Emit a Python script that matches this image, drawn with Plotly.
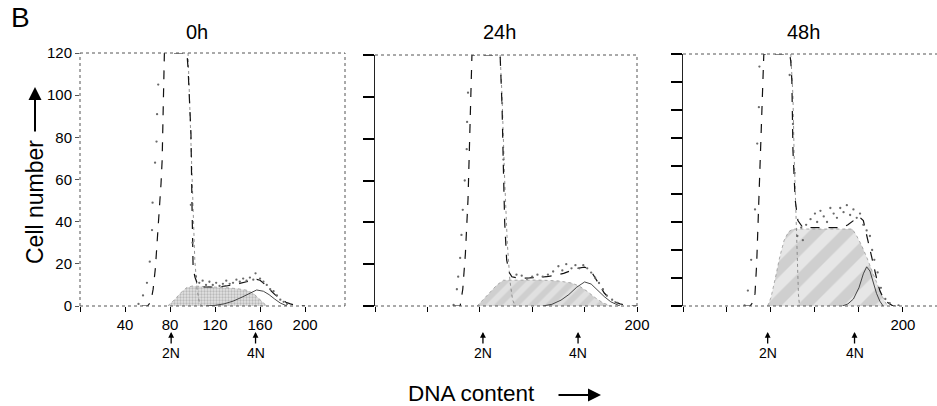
import plotly.graph_objects as go

# ---------------- data ----------------
panel_titles = ["0h", "24h", "48h"]

# 0h
fit0_x = [55, 60, 63, 65, 67, 69, 71, 72, 73, 74, 75, 95, 96, 97.5, 98.6, 99.5, 100.5, 102, 104, 106.5, 110, 121, 130, 136, 142, 148, 153, 157, 160, 163, 166, 169, 173, 178, 183, 187, 192, 200]
fit0_y = [0, 0, 2, 8, 18, 32, 50, 58, 69, 95, 120, 120, 113, 95, 82, 49, 18.5, 14, 11, 9, 9, 9, 9.5, 10, 10.7, 11.5, 12.2, 12.6, 12.2, 11, 9.5, 7.6, 5.5, 3.6, 1.8, 1, 0.3, 0]
dots0_x = [52, 56, 59.5, 62, 64, 64.5, 66.7, 68, 68.5, 69.5, 98.5, 100, 103, 106, 109, 112, 115, 118, 121, 124, 127, 130, 133, 136, 139, 142, 145, 148, 151, 154, 156, 160, 163, 166, 169, 172, 175, 178, 181, 184]
dots0_y = [1, 5, 11, 21, 36, 49, 68, 78, 91, 105, 48, 30, 14, 11, 12, 10, 11.5, 10, 11, 9.5, 10.5, 12, 10.5, 11, 12.5, 11.5, 13, 12, 13.5, 12.5, 15.5, 13, 11.5, 10, 8, 7, 5, 3, 2, 1]
s0_x = [78, 84, 90, 95, 100, 110, 120, 130, 140, 148, 154, 158, 162, 166]
s0_y = [0, 3, 6.5, 8.8, 9.5, 9.3, 9, 8.7, 8.2, 7.5, 6, 4, 2, 0]
g2_0_x = [112, 120, 128, 136, 144, 150, 157, 163, 168, 173, 178, 184]
g2_0_y = [0, 0.3, 1, 2.3, 4.2, 5.9, 7.6, 7, 5.4, 3.3, 1.4, 0]
g1_0_x = [96, 98, 100, 102, 104, 106, 108]
g1_0_y = [120, 90, 50, 22, 8, 2, 0]

# 24h
fit1_x = [60, 65, 67, 69, 71, 72.5, 74, 95.5, 97, 98, 99, 100.5, 102.5, 104.5, 110, 118, 125, 131, 138, 144, 150, 154, 160, 163, 166, 169, 172, 175, 179, 183, 187, 195, 200]
fit1_y = [0, 0, 8, 25, 51, 85, 120, 120, 95, 66, 40, 22, 16, 14, 13.2, 13.4, 13.6, 14, 14.8, 15.6, 17, 18, 18.6, 17.8, 15.6, 12.5, 9, 6.2, 3.6, 2, 1, 0, 0]
dots1_x = [60, 62.5, 63.5, 65, 66, 67, 68.5, 70, 70.3, 71, 97, 98, 108, 112, 116, 120, 124, 128, 132, 136, 140, 143, 146, 150, 153, 156, 159, 162, 165, 168, 171, 174, 177, 181, 185]
dots1_y = [0.5, 8, 14, 23, 34, 46, 60, 75, 88, 102, 97, 70, 15, 14.5, 13, 14, 15, 14, 15, 16.5, 19, 17, 20, 18, 19.5, 18, 19.5, 18, 16, 13.5, 11, 8, 5, 3, 1.5]
s1_x = [78, 83, 88, 93, 98, 110, 125, 140, 150, 156, 162, 168, 174, 180]
s1_y = [0, 3.5, 7, 10, 12.3, 12.5, 12.4, 12, 11, 9.5, 7, 4, 1.5, 0]
g2_1_x = [128, 135, 142, 148, 154, 160, 165, 170, 175, 180, 187]
g2_1_y = [0, 0.8, 2.8, 5.5, 9, 11.5, 10.5, 7.5, 4.5, 2, 0]
g1_1_x = [95.5, 97, 99, 101, 103, 105, 107]
g1_1_y = [120, 100, 60, 30, 12, 3, 0]

# 48h (own vertical scale)
fit2_x = [56, 61, 64, 65.5, 67, 68, 70, 71.5, 73.5, 97, 98, 99, 100, 102, 104.5, 109, 117, 125, 134, 140, 145, 150, 153, 157, 160, 164, 168, 171, 173, 176, 179, 182, 185, 191, 200]
fit2_y = [0, 0, 3, 9, 30, 52, 90, 123, 180, 180, 175, 161, 111, 76, 61, 56, 56, 56, 56, 56, 56, 58, 60, 62, 64, 61, 47, 38, 31, 20, 11, 6, 3, 0, 0]
dots2_x = [56, 59, 62, 65.5, 67.5, 69, 69.5, 97, 100, 101.5, 104, 107.5, 109, 112, 116, 120, 122, 125, 128, 131, 134, 137, 140, 143, 146, 149, 152, 155, 158, 161, 164, 167, 170, 172, 174, 177, 180, 184, 188, 196]
dots2_y = [0.5, 11, 33, 69, 116, 142, 171, 165, 130, 95, 50, 56, 47, 58, 62, 66, 60, 68, 64, 60, 70, 66, 63, 70, 67, 72, 65, 69, 63, 66, 58, 54, 50, 40, 33, 24, 13, 5, 2, 0.5]
s2_x = [77, 80, 84, 88, 92, 96, 100, 110, 120, 130, 140, 150, 154, 158, 162, 167, 172, 176, 180, 183, 186]
s2_y = [0, 6, 20, 35, 47, 53, 55, 55, 55, 55, 55, 55, 55, 50, 44, 35, 25, 16, 9, 4, 0]
g2_2_x = [145, 150, 155, 160, 164, 167, 170, 173, 176, 179, 182]
g2_2_y = [0, 1.5, 5, 13, 23, 28, 25, 17, 9, 3.5, 0]
g1_2_x = [98, 100, 101, 102, 103, 104, 105, 106]
g1_2_y = [180, 150, 110, 80, 50, 25, 8, 0]

x_tickvals = [0, 40, 80, 120, 160, 200]
x_ticktext_first = ["", "40", "80", "120", "160", "200"]
x_ticktext_other = ["", "", "", "", "", "200"]
y_tickvals_first = [0, 20, 40, 60, 80, 100, 120]
y_tickvals_last = [0, 20, 40, 60, 80, 100, 120, 140, 160, 180]
ploidy_labels = ["2N", "4N"]
ploidy_pos = [[81, 156], [82.4, 155], [77, 156]]

panels = [
    dict(fx=fit0_x, fy=fit0_y, dx=dots0_x, dy=dots0_y, sx=s0_x, sy=s0_y, g2x=g2_0_x, g2y=g2_0_y, g1x=g1_0_x, g1y=g1_0_y,
         pat=dict(shape=".", fgcolor="#8f8f8f", bgcolor="#e2e2e2", size=3, solidity=0.45)),
    dict(fx=fit1_x, fy=fit1_y, dx=dots1_x, dy=dots1_y, sx=s1_x, sy=s1_y, g2x=g2_1_x, g2y=g2_1_y, g1x=g1_1_x, g1y=g1_1_y,
         pat=dict(shape="/", fgcolor="#bdbdbd", bgcolor="#e0e0e0", size=12, solidity=0.5)),
    dict(fx=fit2_x, fy=fit2_y, dx=dots2_x, dy=dots2_y, sx=s2_x, sy=s2_y, g2x=g2_2_x, g2y=g2_2_y, g1x=g1_2_x, g1y=g1_2_y,
         pat=dict(shape="/", fgcolor="#b8b8b8", bgcolor="#e6e6e6", size=22, solidity=0.5)),
]

W, H = 937, 406
xdom = [[80 / W, 345 / W], [375 / W, 637 / W], [683 / W, 1.0]]
ydom = [[1 - 306 / H, 1 - 53 / H], [1 - 306 / H, 1 - 55 / H], [1 - 306 / H, 1 - 54 / H]]
xranges = [[0, 235.5], [0, 200], [0, 231]]
yranges = [[0, 120], [0, 120], [0, 180]]

FONT = "Liberation Sans, Arial, sans-serif"
fig = go.Figure()

for i, p in enumerate(panels):
    xa = "x" if i == 0 else f"x{i+1}"
    ya = "y" if i == 0 else f"y{i+1}"
    fig.add_trace(go.Scatter(x=p["sx"], y=p["sy"], xaxis=xa, yaxis=ya, mode="lines",
                             line=dict(color="#999999", width=0.8, dash="dot"),
                             fill="tozeroy", fillcolor="#dcdcdc", fillpattern=p["pat"], hoverinfo="skip"))
    fig.add_trace(go.Scatter(x=p["g2x"], y=p["g2y"], xaxis=xa, yaxis=ya, mode="lines",
                             line=dict(color="#333333", width=0.9)))
    fig.add_trace(go.Scatter(x=p["g1x"], y=p["g1y"], xaxis=xa, yaxis=ya, mode="lines",
                             line=dict(color="#777777", width=0.8, dash="dot")))
    fig.add_trace(go.Scatter(x=p["fx"], y=p["fy"], xaxis=xa, yaxis=ya, mode="lines",
                             line=dict(color="#111111", width=1.2, dash="dash")))
    fig.add_trace(go.Scatter(x=p["dx"], y=p["dy"], xaxis=xa, yaxis=ya, mode="markers",
                             marker=dict(color="#6a6a6a", size=2.3)))

layout = dict(
    width=W, height=H, margin=dict(l=0, r=0, t=0, b=0, pad=0, autoexpand=False),
    paper_bgcolor="white", plot_bgcolor="white", showlegend=False,
    font=dict(family=FONT, color="black"),
)
for i in range(3):
    xk = "xaxis" if i == 0 else f"xaxis{i+1}"
    yk = "yaxis" if i == 0 else f"yaxis{i+1}"
    layout[xk] = dict(domain=xdom[i], range=xranges[i], anchor="y" if i == 0 else f"y{i+1}",
                      tickvals=x_tickvals, ticktext=x_ticktext_first if i == 0 else x_ticktext_other,
                      ticks="outside", ticklen=5, tickwidth=1, tickcolor="black",
                      showgrid=False, zeroline=False, showline=False, automargin=False,
                      tickfont=dict(size=15, family=FONT), fixedrange=True)
    if i == 0:
        layout[yk] = dict(domain=ydom[i], range=yranges[i], anchor="x", automargin=False,
                          tickvals=y_tickvals_first, ticks="outside", ticklen=4, tickcolor="#555555",
                          showgrid=False, zeroline=False, showline=False,
                          tickfont=dict(size=15, family=FONT))
    else:
        layout[yk] = dict(domain=ydom[i], range=yranges[i], anchor=f"x{i+1}", automargin=False,
                          tickvals=y_tickvals_first if i == 1 else y_tickvals_last,
                          showticklabels=False, ticks="outside", ticklen=11, tickwidth=2,
                          tickcolor="black", showgrid=False, zeroline=False,
                          showline=True, linecolor="#222222", linewidth=1)
fig.update_layout(**layout)

# dotted frames
shapes = []
for i in range(3):
    xr = "x domain" if i == 0 else f"x{i+1} domain"
    yr = "y domain" if i == 0 else f"y{i+1} domain"
    dot = dict(color="#555555", width=1, dash="dot")
    shapes.append(dict(type="line", xref=xr, yref=yr, x0=0, x1=1, y0=0, y1=0, line=dot))
    shapes.append(dict(type="line", xref=xr, yref=yr, x0=0, x1=1, y0=1, y1=1, line=dot))
    if i < 2:
        shapes.append(dict(type="line", xref=xr, yref=yr, x0=1, x1=1, y0=0, y1=1, line=dot))
    if i == 0:
        shapes.append(dict(type="line", xref=xr, yref=yr, x0=0, x1=0, y0=0, y1=1, line=dot))
fig.update_layout(shapes=shapes)

ann = []
ann.append(dict(text="B", x=20 / W, y=1 - 17 / H, xref="paper", yref="paper", showarrow=False,
                font=dict(size=28, family=FONT), xanchor="center", yanchor="middle"))
for t, cx in zip(panel_titles, [197, 500, 803]):
    ann.append(dict(text=t, x=cx / W, y=1 - 32 / H, xref="paper", yref="paper", showarrow=False,
                    font=dict(size=20, family=FONT), xanchor="center", yanchor="middle"))
ann.append(dict(text="Cell number", x=35 / W, y=1 - 202 / H, xref="paper", yref="paper", showarrow=False,
                textangle=-90, font=dict(size=23, family=FONT), xanchor="center", yanchor="middle"))
ann.append(dict(text="", x=35 / W, y=1 - 87 / H, xref="paper", yref="paper", showarrow=True,
                ax=0, ay=46, arrowhead=2, arrowsize=1.3, arrowwidth=2, arrowcolor="black"))
ann.append(dict(text="DNA content", x=471 / W, y=1 - 393 / H, xref="paper", yref="paper", showarrow=False,
                font=dict(size=22.5, family=FONT), xanchor="center", yanchor="middle"))
ann.append(dict(text="", x=601 / W, y=1 - 395 / H, xref="paper", yref="paper", showarrow=True,
                ax=-44, ay=0, arrowhead=2, arrowsize=1.3, arrowwidth=2, arrowcolor="black"))
for i in range(3):
    xr = "x" if i == 0 else f"x{i+1}"
    for lab, pos in zip(ploidy_labels, ploidy_pos[i]):
        ann.append(dict(text=lab, x=pos, y=1 - 332 / H, xref=xr, yref="paper", showarrow=True,
                        ax=0, ay=21, arrowhead=2, arrowsize=0.9, arrowwidth=1.3, arrowcolor="black",
                        font=dict(size=14, family=FONT)))
fig.update_layout(annotations=ann)

fig.write_html("out.html", config={"displayModeBar": False},
               post_script="document.body.style.margin='0';document.body.style.overflow='hidden';")
